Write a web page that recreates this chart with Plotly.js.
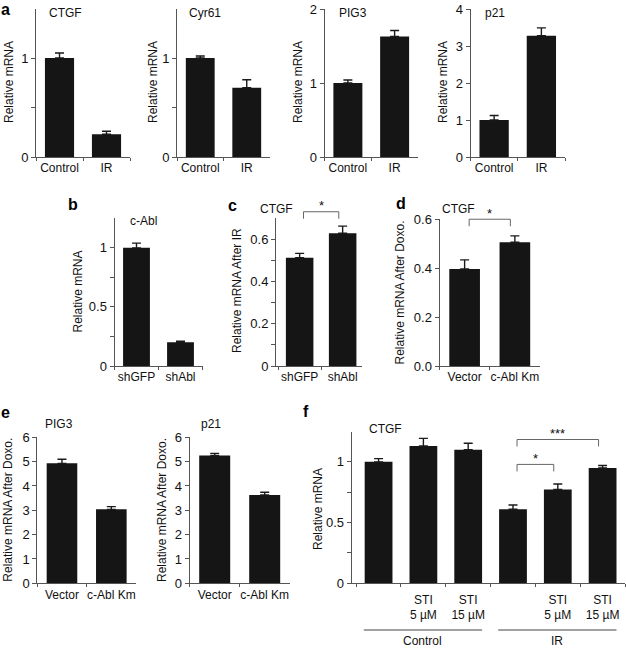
<!DOCTYPE html>
<html><head><meta charset="utf-8">
<script src="https://cdn.plot.ly/plotly-3.0.1.min.js"></script>
<style>html,body{margin:0;padding:0;background:#fff;} #chart{width:626px;height:649px;}</style>
</head><body><div id="chart"></div>
<script>
// ---------------- data ----------------
const aCategories = ['Control', 'IR'];
const aCtgf = [1.00, 0.23];
const aCtgfErr = [0.05, 0.03];
const aCyr61 = [1.00, 0.70];
const aCyr61Err = [0.02, 0.08];
const aPig3 = [1.00, 1.63];
const aPig3Err = [0.04, 0.08];
const aP21 = [1.00, 3.28];
const aP21Err = [0.12, 0.21];

const bCategories = ['shGFP', 'shAbl'];
const bCAbl = [1.00, 0.20];
const bCAblErr = [0.04, 0.01];

const cCategories = ['shGFP', 'shAbl'];
const cCtgf = [0.513, 0.629];
const cCtgfErr = [0.021, 0.034];

const dCategories = ['Vector', 'c-Abl Km'];
const dCtgf = [0.396, 0.505];
const dCtgfErr = [0.037, 0.026];

const eCategories = ['Vector', 'c-Abl Km'];
const ePig3 = [4.93, 3.04];
const ePig3Err = [0.17, 0.11];
const eP21 = [5.25, 3.63];
const eP21Err = [0.09, 0.11];

const fCategories = ['Control', 'Control STI 5 µM', 'Control STI 15 µM', 'IR', 'IR STI 5 µM', 'IR STI 15 µM'];
const fTickLabels = ['', 'STI<br>5 µM', 'STI<br>15 µM', '', 'STI<br>5 µM', 'STI<br>15 µM'];
const fCtgf = [1.00, 1.13, 1.10, 0.61, 0.773, 0.95];
const fCtgfErr = [0.027, 0.063, 0.053, 0.035, 0.045, 0.02];
const fGroups = ['Control', 'IR'];
const fGroupFrom = [0, 3];
const fGroupTo = [2, 5];

// significance brackets
const sigPanel = ['c', 'd', 'f', 'f'];
const sigFrom = [0, 0, 3, 3];
const sigTo = [1, 1, 4, 5];
const sigLabel = ['*', '*', '*', '***'];
const sigLevel = [0.731, 0.599, 0.979, 1.184];

// ---------------- layout helpers ----------------
const W = 626, H = 649;
const FONT = '"Liberation Sans", Arial, Helvetica, sans-serif';
const AX = '#555';
const BAR = '#151515';

const panels = {
  a1: {n: 1, cats: aCategories, vals: aCtgf, err: aCtgfErr, xpx: [36, 130], ypx: [8.5, 157], yr: [0, 1.5], tv: [0, 0.5, 1], tt: ['0', '', '1'], bw: 0.62,
       title: 'CTGF', tx: 47, ty: 13, yt: 'Relative mRNA', ytx: 9, yty: 82},
  a2: {n: 2, cats: aCategories, vals: aCyr61, err: aCyr61Err, xpx: [177, 270], ypx: [8.5, 157], yr: [0, 1.5], tv: [0, 0.5, 1], tt: ['0', '', '1'], bw: 0.62,
       title: 'Cyr61', tx: 187.5, ty: 13, yt: 'Relative mRNA', ytx: 153, yty: 82},
  a3: {n: 3, cats: aCategories, vals: aPig3, err: aPig3Err, xpx: [324.5, 418], ypx: [9, 157], yr: [0, 2], tv: [0, 1, 2], tt: ['0', '1', '2'], bw: 0.62,
       title: 'PIG3', tx: 336.5, ty: 13, yt: 'Relative mRNA', ytx: 298, yty: 82},
  a4: {n: 4, cats: aCategories, vals: aP21, err: aP21Err, xpx: [470.5, 565], ypx: [9, 157], yr: [0, 4], tv: [0, 1, 2, 3, 4], tt: ['0', '1', '2', '3', '4'], bw: 0.62,
       title: 'p21', tx: 483, ty: 13, yt: 'Relative mRNA', ytx: 443, yty: 82},
  b:  {n: 5, cats: bCategories, vals: bCAbl, err: bCAblErr, xpx: [114.5, 202.5], ypx: [218.3, 366], yr: [0, 1.25], tv: [0, 0.25, 0.5, 0.75, 1], tt: ['0', '', '0.5', '', '1'], bw: 0.61,
       title: 'c-Abl', tx: 128, ty: 221, yt: 'Relative mRNA', ytx: 77, yty: 291.5},
  c:  {n: 6, cats: cCategories, vals: cCtgf, err: cCtgfErr, xpx: [276, 362], xr: [-0.55, 1.45], ypx: [218.3, 366], yr: [0, 0.7], tv: [0, 0.1, 0.2, 0.3, 0.4, 0.5, 0.6], tt: ['0', '', '0.2', '', '0.4', '', '0.6'], bw: 0.64,
       title: 'CTGF', tx: 258, ty: 209, yt: 'Relative mRNA After IR', ytx: 237, yty: 291},
  d:  {n: 7, cats: dCategories, vals: dCtgf, err: dCtgfErr, xpx: [439.5, 540], ypx: [219, 366], yr: [0, 0.6], tv: [0, 0.2, 0.4, 0.6], tt: ['0.0', '0.2', '0.4', '0.6'], bw: 0.61,
       title: 'CTGF', tx: 440, ty: 209, yt: 'Relative mRNA After Doxo.', ytx: 400, yty: 292.5},
  e1: {n: 8, cats: eCategories, vals: ePig3, err: ePig3Err, xpx: [37.3, 136], ypx: [437.3, 583.3], yr: [0, 6], tv: [0, 1, 2, 3, 4, 5, 6], tt: ['0', '1', '2', '3', '4', '5', '6'], bw: 0.62,
       title: 'PIG3', tx: 43, ty: 424, yt: 'Relative mRNA After Doxo.', ytx: 7.7, yty: 510},
  e2: {n: 9, cats: eCategories, vals: eP21, err: eP21Err, xpx: [189.7, 289.7], ypx: [437.3, 583.3], yr: [0, 6], tv: [0, 1, 2, 3, 4, 5, 6], tt: ['0', '1', '2', '3', '4', '5', '6'], bw: 0.62,
       title: 'p21', tx: 199, ty: 424, yt: 'Relative mRNA After Doxo.', ytx: 162, yty: 510},
  f:  {n: 10, cats: fCategories, ticktext: fTickLabels, vals: fCtgf, err: fCtgfErr, xpx: [351.7, 625], xr: [-0.6, 5.5], ypx: [431.5, 583.3], yr: [0, 1.25], tv: [0, 0.25, 0.5, 0.75, 1], tt: ['0', '', '0.5', '', '1'], bw: 0.62,
       title: 'CTGF', tx: 366.5, ty: 428.5, yt: 'Relative mRNA', ytx: 318, yty: 509, standoff: 5}
};

// panel letters: text, left x (px), top y (px)
const letters = [['a', 0, 0], ['b', 66.5, 195], ['c', 226.5, 195.5], ['d', 395, 194.5], ['e', 0, 403], ['f', 302, 402]];

const px = x => x / W;
const py = y => 1 - y / H;

const data = [];
const layout = {
  width: W, height: H,
  margin: {l: 0, r: 0, t: 0, b: 0},
  paper_bgcolor: '#fff', plot_bgcolor: '#fff',
  showlegend: false,
  font: {family: FONT, size: 12, color: '#111'},
  annotations: [], shapes: []
};

function xr(p) { return p.xr || [-0.5, p.cats.length - 0.5]; }
function xDom(p, pos) { const r = xr(p); return (pos - r[0]) / (r[1] - r[0]); }
function yDom(p, v) { return (v - p.yr[0]) / (p.yr[1] - p.yr[0]); }
function yPxToDom(p, d) { return d / (p.ypx[1] - p.ypx[0]); }

Object.keys(panels).forEach(key => {
  const p = panels[key];
  const sfx = p.n === 1 ? '' : String(p.n);
  p.xa = 'x' + sfx; p.ya = 'y' + sfx;
  data.push({
    type: 'bar', x: p.cats, y: p.vals, xaxis: p.xa, yaxis: p.ya,
    width: p.bw,
    marker: {color: BAR, line: {width: 0}},
    error_y: {type: 'data', symmetric: false, array: p.err, arrayminus: p.err.map(() => 0),
              color: '#1a1a1a', thickness: 1.4, width: 4.5},
    hoverinfo: 'x+y'
  });
  const xaxis = {
    domain: [px(p.xpx[0]), px(p.xpx[1])], anchor: p.ya,
    type: 'category', categoryorder: 'array', categoryarray: p.cats,
    range: xr(p), tickangle: 0, automargin: false,
    showline: true, linecolor: AX, linewidth: 1,
    ticks: 'outside', ticklen: 3, tickwidth: 1, tickcolor: AX, tickson: 'boundaries',
    showgrid: false, zeroline: false, fixedrange: true,
    tickfont: {family: FONT, size: 12, color: '#111'}
  };
  if (p.ticktext) { xaxis.tickmode = 'array'; xaxis.tickvals = p.cats; xaxis.ticktext = p.ticktext; }
  if (p.standoff) xaxis.ticklabelstandoff = p.standoff;
  const yaxis = {
    domain: [py(p.ypx[1]), py(p.ypx[0])], anchor: p.xa,
    range: p.yr, tickmode: 'array', tickvals: p.tv, ticktext: p.tt, automargin: false,
    showline: true, linecolor: AX, linewidth: 1,
    ticks: 'outside', ticklen: 4, tickwidth: 1, tickcolor: AX,
    showgrid: false, zeroline: false, fixedrange: true,
    tickfont: {family: FONT, size: 13, color: '#111'}
  };
  layout['xaxis' + sfx] = xaxis;
  layout['yaxis' + sfx] = yaxis;
  // panel title
  layout.annotations.push({xref: 'paper', yref: 'paper', x: px(p.tx), y: py(p.ty), xanchor: 'left', yanchor: 'middle',
    text: p.title, showarrow: false, font: {family: FONT, size: 12, color: '#111'}});
  // y axis title
  layout.annotations.push({xref: 'paper', yref: 'paper', x: px(p.ytx), y: py(p.yty), xanchor: 'center', yanchor: 'middle',
    text: p.yt, textangle: -90, showarrow: false, font: {family: FONT, size: 12, color: '#111'}});
});

letters.forEach(([t, x, y]) => {
  layout.annotations.push({xref: 'paper', yref: 'paper', x: px(x), y: py(y), xanchor: 'left', yanchor: 'top',
    text: '<b>' + t + '</b>', showarrow: false, borderpad: 0, font: {family: FONT, size: 16, color: '#000'}});
});

// significance brackets
const INSET = 0.09;
sigPanel.forEach((k, i) => {
  const p = panels[k];
  const xref = p.xa + ' domain', yref = p.ya + ' domain';
  const xl = xDom(p, sigFrom[i] + INSET), xrr = xDom(p, sigTo[i] - INSET);
  const yt = yDom(p, sigLevel[i]), yb = yt - yPxToDom(p, 7);
  const line = {color: '#666', width: 1};
  layout.shapes.push({type: 'line', xref, yref, x0: xl, x1: xl, y0: yb, y1: yt, line});
  layout.shapes.push({type: 'line', xref, yref, x0: xl, x1: xrr, y0: yt, y1: yt, line});
  layout.shapes.push({type: 'line', xref, yref, x0: xrr, x1: xrr, y0: yt, y1: yb, line});
  layout.annotations.push({xref, yref, x: (xl + xrr) / 2, y: yt + yPxToDom(p, 6), xanchor: 'center', yanchor: 'middle',
    text: sigLabel[i], showarrow: false, font: {family: FONT, size: 13, color: '#111'}});
});

// group lines for panel f
const pf = panels.f;
fGroups.forEach((g, i) => {
  const xref = pf.xa + ' domain';
  const x0 = xDom(pf, fGroupFrom[i] - 0.33), x1 = xDom(pf, fGroupTo[i] + 0.31);
  layout.shapes.push({type: 'line', xref, yref: 'paper', x0, x1, y0: py(630), y1: py(630), line: {color: '#444', width: 1}});
  layout.annotations.push({xref, yref: 'paper', x: (x0 + x1) / 2, y: py(649), xanchor: 'center', yanchor: 'bottom',
    text: g, showarrow: false, borderpad: 0, font: {family: FONT, size: 12, color: '#111'}});
});

Plotly.newPlot('chart', data, layout, {displayModeBar: false, staticPlot: true});
</script>
</body></html>
